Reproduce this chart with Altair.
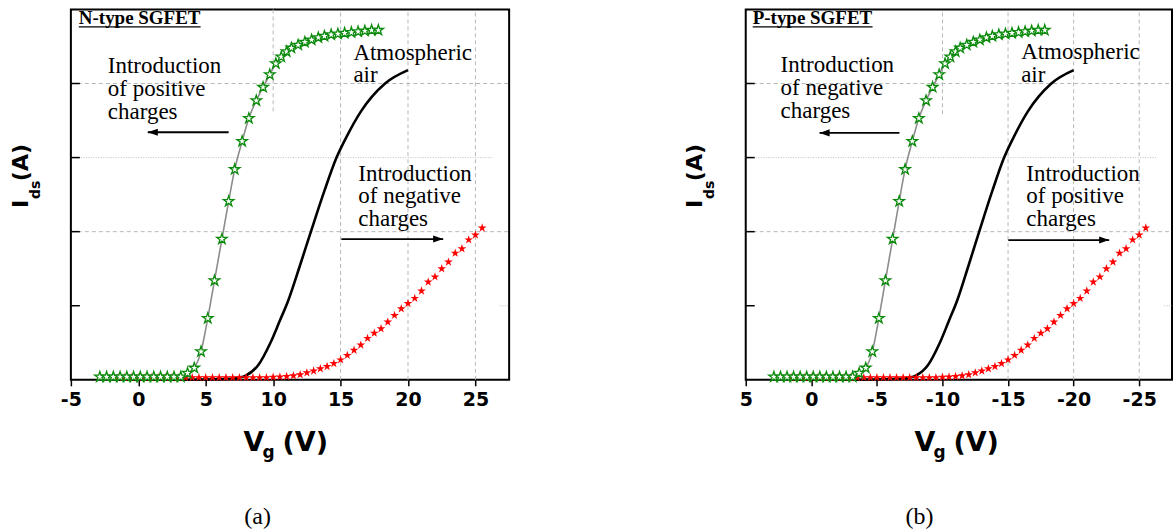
import altair as alt
import pandas as pd

# Drain current I_ds (plot units 0-5) against gate voltage V_g for SGFET devices.

# ---- N-type SGFET (panel a) ----
n_shift_vg = [-2.85, -2.35, -1.85, -1.35, -0.85, -0.35, 0.15, 0.65, 1.15, 1.65, 2.15, 2.65, 3.15,
              3.65, 4.15, 4.65, 5.15, 5.65, 6.2, 6.7, 7.15, 7.7, 8.2, 8.75, 9.25, 9.75, 10.2,
              10.6, 11.0, 11.35, 11.85, 12.35, 12.85, 13.35, 13.8, 14.3, 14.8, 15.3, 15.8, 16.3,
              16.8, 17.3, 17.8]
n_air_vg = [-1.5, 3.0, 6.5, 7.5, 8.0, 8.9, 9.8, 10.5, 11.1, 12.0, 12.8, 13.8, 14.7, 15.5, 16.5,
            18.3, 20.0]
n_other_vg = [-1.5, -1.0, -0.5, 0.0, 0.5, 1.0, 1.5, 2.0, 2.5, 3.0, 3.5, 4.0, 4.5, 5.0, 5.5, 6.0,
              6.5, 7.0, 7.5, 8.0, 8.5, 9.0, 9.5, 10.0, 10.5, 11.0, 11.5, 12.0, 12.5, 13.0, 13.5,
              14.0, 14.5, 15.0, 15.5, 16.0, 16.5, 17.0, 17.5, 18.0, 18.5, 19.0, 19.5, 20.0, 20.5,
              21.0, 21.5, 22.0, 22.5, 23.0, 23.5, 24.0, 24.5, 25.0, 25.5]

# ---- P-type SGFET (panel b) ----
p_shift_vg = [2.85, 2.35, 1.85, 1.35, 0.85, 0.35, -0.15, -0.65, -1.15, -1.65, -2.15, -2.65, -3.15,
              -3.65, -4.15, -4.65, -5.15, -5.65, -6.2, -6.7, -7.15, -7.7, -8.2, -8.75, -9.25, -9.75,
              -10.2, -10.6, -11.0, -11.35, -11.85, -12.35, -12.85, -13.35, -13.8, -14.3, -14.8,
              -15.3, -15.8, -16.3, -16.8, -17.3, -17.8]
p_air_vg = [1.5, -3.0, -6.5, -7.5, -8.0, -8.9, -9.8, -10.5, -11.1, -12.0, -12.8, -13.8, -14.7,
            -15.5, -16.5, -18.3, -20.0]
p_other_vg = [1.5, 1.0, 0.5, 0.0, -0.5, -1.0, -1.5, -2.0, -2.5, -3.0, -3.5, -4.0, -4.5, -5.0, -5.5,
              -6.0, -6.5, -7.0, -7.5, -8.0, -8.5, -9.0, -9.5, -10.0, -10.5, -11.0, -11.5, -12.0,
              -12.5, -13.0, -13.5, -14.0, -14.5, -15.0, -15.5, -16.0, -16.5, -17.0, -17.5, -18.0,
              -18.5, -19.0, -19.5, -20.0, -20.5, -21.0, -21.5, -22.0, -22.5, -23.0, -23.5, -24.0,
              -24.5, -25.0, -25.5]

# Currents (same shape for both device types)
shift_ids = [0.04, 0.04, 0.04, 0.04, 0.04, 0.04, 0.04, 0.04, 0.04, 0.04, 0.04, 0.04, 0.04,
             0.09, 0.16, 0.38, 0.83, 1.34, 1.90, 2.41, 2.84, 3.22, 3.53, 3.77, 3.95, 4.12, 4.27,
             4.36, 4.43, 4.48, 4.52, 4.56, 4.59, 4.62, 4.64, 4.66, 4.67, 4.68, 4.69, 4.70,
             4.71, 4.72, 4.72]
air_ids = [0.0, 0.0, 0.01, 0.03, 0.06, 0.2, 0.5, 0.8, 1.06, 1.55, 2.0, 2.55, 3.0, 3.3, 3.62,
           4.0, 4.18]
other_ids = [0.03, 0.03, 0.03, 0.03, 0.03, 0.03, 0.03, 0.03, 0.03, 0.03, 0.03, 0.03, 0.03, 0.03,
             0.03, 0.03, 0.03, 0.03, 0.03, 0.03, 0.03, 0.03, 0.03, 0.035, 0.04, 0.045, 0.055,
             0.07, 0.095, 0.12, 0.15, 0.18, 0.22, 0.27, 0.33, 0.40, 0.47, 0.56, 0.63, 0.69, 0.78,
             0.87, 0.96, 1.03, 1.10, 1.20, 1.32, 1.39, 1.50, 1.59, 1.71, 1.77, 1.89, 1.955, 2.05]

n_ticks = [-5, -2.5, 0, 2.5, 5, 7.5, 10, 12.5, 15, 17.5, 20, 22.5, 25, 27.5]
p_ticks = [5, 2.5, 0, -2.5, -5, -7.5, -10, -12.5, -15, -17.5, -20, -22.5, -25, -27.5]

STAR = ("M0,-1L0.2245,-0.309L0.9511,-0.309L0.3633,0.118L0.5878,0.809L0,0.382"
        "L-0.5878,0.809L-0.3633,0.118L-0.9511,-0.309L-0.2245,-0.309Z")
HEAD_L = "M0,0L1.7,-0.6L1.7,0.6Z"
HEAD_R = "M0,0L-1.7,-0.6L-1.7,0.6Z"

SERIF = "Liberation Serif"
SANS = "DejaVu Sans"
H = 371


def panel(width, domain, ticks, shift_vg, air_vg, other_vg, lay, caption):
    xs = alt.Scale(domain=domain, nice=False, zero=False)
    ys = alt.Scale(domain=[0, 5], nice=False, zero=False)
    X = alt.X("vg:Q", scale=xs, title=None,
              axis=alt.Axis(values=ticks, domain=False, grid=False, tickSize=6, tickWidth=1.5,
                            tickColor="black", labelColor="black", labelFont=SANS,
                            labelFontWeight="bold", labelFontSize=19, labelPadding=5,
                            labelFlush=False, labelOverlap=False,
                            labelExpr="abs(datum.value % 5) < 0.01 ? (datum.value < 0 ? '-' : '') + abs(datum.value) : ''"))
    Y = alt.Y("ids:Q", scale=ys, axis=None)

    dashed = pd.DataFrame(lay["dashed"], columns=["vg", "vg2", "ids", "ids2"])
    dotted = pd.DataFrame(lay["dotted"], columns=["vg", "vg2", "ids", "ids2"])
    grid_d = alt.Chart(dashed).mark_rule(color="#b8b8b8", strokeWidth=1, strokeDash=[4, 3]).encode(
        x=X, x2="vg2:Q", y=Y, y2="ids2:Q")
    grid_o = alt.Chart(dotted).mark_rule(color="#c0c0c0", strokeWidth=1, strokeDash=[1, 1.5]).encode(
        x="vg:Q", x2="vg2:Q", y="ids:Q", y2="ids2:Q")

    yticks = alt.Chart(pd.DataFrame({"ids": [1, 2, 3, 4]})).mark_rule(
        color="black", strokeWidth=1.5).encode(x=alt.value(0), x2=alt.value(9), y="ids:Q")

    air = alt.Chart(pd.DataFrame({"vg": air_vg, "ids": air_ids})).mark_line(
        color="black", strokeWidth=2.6, interpolate="monotone").encode(x="vg:Q", y="ids:Q")
    other = alt.Chart(pd.DataFrame({"vg": other_vg, "ids": other_ids})).mark_point(
        shape=STAR, size=85, filled=True, color="#ff0000", opacity=1).encode(x="vg:Q", y="ids:Q")
    shift_df = pd.DataFrame({"vg": shift_vg, "ids": shift_ids})
    shift_line = alt.Chart(shift_df).mark_line(
        color="#8c8c8c", strokeWidth=1.6, interpolate="monotone").encode(x="vg:Q", y="ids:Q")
    shift_pts = alt.Chart(shift_df).mark_point(
        shape=STAR, size=120, filled=False, fill="white", fillOpacity=1, stroke="#0a8a0a",
        strokeWidth=1.3, opacity=1).encode(x="vg:Q", y="ids:Q")

    notes = pd.DataFrame(lay["notes"], columns=["vg", "ids", "txt"])
    note_txt = alt.Chart(notes).mark_text(
        font=SERIF, fontSize=23, align="left", baseline="alphabetic", color="black").encode(
        x="vg:Q", y="ids:Q", text="txt:N")
    head = pd.DataFrame(lay["tag"], columns=["vg", "ids", "txt"])
    head_txt = alt.Chart(head).mark_text(
        font=SERIF, fontSize=19, fontWeight="bold", align="left", baseline="alphabetic",
        color="black").encode(x="vg:Q", y="ids:Q", text="txt:N")
    uline = alt.Chart(pd.DataFrame([lay["underline"]], columns=["vg", "vg2", "ids"])).mark_rule(
        color="black", strokeWidth=1.3).encode(x="vg:Q", x2="vg2:Q", y="ids:Q")

    arrows = pd.DataFrame(lay["arrows"], columns=["vg", "vg2", "ids"])
    shafts = alt.Chart(arrows).mark_rule(color="black", strokeWidth=1.8).encode(
        x="vg:Q", x2="vg2:Q", y="ids:Q")
    tips_l = alt.Chart(arrows.iloc[[0]]).mark_point(
        shape=HEAD_L, size=140, filled=True, color="black", opacity=1).encode(x="vg2:Q", y="ids:Q")
    tips_r = alt.Chart(arrows.iloc[[1]]).mark_point(
        shape=HEAD_R, size=140, filled=True, color="black", opacity=1).encode(x="vg2:Q", y="ids:Q")

    one = pd.DataFrame({"k": [0]})
    ax_font = dict(font=SANS, fontWeight="bold", color="black", baseline="alphabetic", align="left")
    vx, gx, px_ = lay["xtitle"]
    x_v = alt.Chart(one).mark_text(text="V", fontSize=27, **ax_font).encode(
        x=alt.value(vx), y=alt.value(442))
    x_g = alt.Chart(one).mark_text(text="g", fontSize=17, **ax_font).encode(
        x=alt.value(gx), y=alt.value(449))
    x_p = alt.Chart(one).mark_text(text="(V)", fontSize=27, **ax_font).encode(
        x=alt.value(px_), y=alt.value(442))
    ib = lay["ytitle"]
    y_i = alt.Chart(one).mark_text(text="I", fontSize=22, angle=270, **ax_font).encode(
        x=alt.value(ib), y=alt.value(199))
    y_ds = alt.Chart(one).mark_text(text="ds", fontSize=14, angle=270, **ax_font).encode(
        x=alt.value(ib + 12), y=alt.value(190))
    y_a = alt.Chart(one).mark_text(text="(A)", fontSize=22, angle=270, **ax_font).encode(
        x=alt.value(ib), y=alt.value(172))
    cap = alt.Chart(one).mark_text(text=caption, font=SERIF, fontSize=24, align="center",
                                   baseline="alphabetic", color="black").encode(
        x=alt.value(lay["cap"]), y=alt.value(515))

    layers = [grid_d, grid_o, yticks, air, other, shift_line, shift_pts, note_txt, head_txt,
              uline, shafts, tips_l, tips_r, x_v, x_g, x_p, y_i, y_ds, y_a, cap]
    if lay.get("anchor"):
        pin = alt.Chart(one).mark_rect(opacity=0).encode(
            x=alt.value(-70), x2=alt.value(-69), y=alt.value(-8), y2=alt.value(-7))
        layers.append(pin)
    return alt.layer(*layers).properties(width=width, height=H)


lay_a = {
    "dashed": [[15, 15, 0, 5], [20, 20, 0, 5], [25, 25, 0, 5], [10, 10, 3.625, 5],
               [-5, 27.5, 4, 4], [-5, 27.5, 2, 2]],
    "dotted": [[-5, 26.3, 3, 3], [26.8, 27.5, 1, 1]],
    "notes": [[-2.26, 4.137, "Introduction"], [-2.26, 3.827, "of positive"],
              [-2.26, 3.517, "charges"], [15.95, 4.313, "Atmospheric"], [15.95, 4.016, "air"],
              [16.32, 2.682, "Introduction"], [16.32, 2.385, "of negative"],
              [16.32, 2.075, "charges"]],
    "tag": [[-4.41, 4.80, "N-type SGFET"]],
    "underline": [-4.41, 4.62, 4.764],
    "arrows": [[6.70, 0.70, 3.342], [15.06, 22.61, 1.90]],
    "xtitle": (173, 192, 212),
    "ytitle": -43,
    "cap": 187,
    "anchor": True,
}
lay_b = {
    "dashed": [[-15, -15, 0, 5], [-20, -20, 0, 5], [-25, -25, 0, 5], [-10, -10, 3.585, 5],
               [5, -27.5, 4, 4], [5, -27.5, 2, 2]],
    "dotted": [[5, -26.36, 3, 3], [-26.9, -27.5, 1, 1]],
    "notes": [[2.34, 4.151, "Introduction"], [2.34, 3.841, "of negative"],
              [2.34, 3.531, "charges"], [-16.0, 4.326, "Atmospheric"], [-16.0, 4.016, "air"],
              [-16.39, 2.682, "Introduction"], [-16.39, 2.385, "of positive"],
              [-16.39, 2.075, "charges"]],
    "tag": [[4.47, 4.80, "P-type SGFET"]],
    "underline": [4.47, -4.67, 4.764],
    "arrows": [[-6.72, -0.63, 3.333], [-15.02, -22.71, 1.887]],
    "xtitle": (169, 188, 208),
    "ytitle": -44,
    "cap": 174,
}

left = panel(439, [-5, 27.5], n_ticks, n_shift_vg, n_air_vg, n_other_vg, lay_a, "(a)")
right = panel(427, [5, -27.5], p_ticks, p_shift_vg, p_air_vg, p_other_vg, lay_b, "(b)")

chart = alt.hconcat(left, right, spacing=237, bounds="flush").properties(
    padding=0, background="white"
).configure_view(stroke="black", strokeWidth=2)

chart.save("out.html", embed_options={"renderer": "svg", "actions": False})
